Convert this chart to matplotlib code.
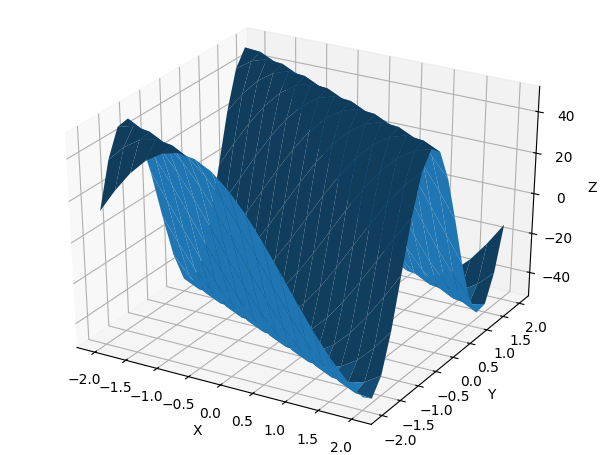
import numpy as np
import matplotlib
matplotlib.use('Agg')
import matplotlib.pyplot as plt
from matplotlib.colors import LightSource, to_rgba

# grid of the surface
x_vals = [-2.0, -1.75, -1.5, -1.25, -1.0, -0.75, -0.5, -0.25, 0.0, 0.25, 0.5, 0.75, 1.0, 1.25, 1.5, 1.75, 2.0]
y_vals = [-2.0, -1.75, -1.5, -1.25, -1.0, -0.75, -0.5, -0.25, 0.0, 0.25, 0.5, 0.75, 1.0, 1.25, 1.5, 1.75, 2.0]

# heights, one row per y value
z_rows = [
    [14.0, 25.4, 35.3, 42.9, 47.9, 50.0, 48.9, 44.8, 37.8, 28.6, 17.5, 5.4, -7.1, -19.1, -29.9, -38.9, -45.5],
    [35.3, 42.9, 47.9, 50.0, 48.9, 44.8, 37.8, 28.6, 17.5, 5.4, -7.1, -19.1, -29.9, -38.9, -45.5, -49.2, -49.9],
    [47.9, 50.0, 48.9, 44.8, 37.8, 28.6, 17.5, 5.4, -7.1, -19.1, -29.9, -38.9, -45.5, -49.2, -49.9, -47.4, -42.1],
    [48.9, 44.8, 37.8, 28.6, 17.5, 5.4, -7.1, -19.1, -29.9, -38.9, -45.5, -49.2, -49.9, -47.4, -42.1, -34.1, -24.0],
    [37.8, 28.6, 17.5, 5.4, -7.1, -19.1, -29.9, -38.9, -45.5, -49.2, -49.9, -47.4, -42.1, -34.1, -24.0, -12.4, 0.0],
    [17.5, 5.4, -7.1, -19.1, -29.9, -38.9, -45.5, -49.2, -49.9, -47.4, -42.1, -34.1, -24.0, -12.4, 0.0, 12.4, 24.0],
    [-7.1, -19.1, -29.9, -38.9, -45.5, -49.2, -49.9, -47.4, -42.1, -34.1, -24.0, -12.4, 0.0, 12.4, 24.0, 34.1, 42.1],
    [-29.9, -38.9, -45.5, -49.2, -49.9, -47.4, -42.1, -34.1, -24.0, -12.4, 0.0, 12.4, 24.0, 34.1, 42.1, 47.4, 49.9],
    [-45.5, -49.2, -49.9, -47.4, -42.1, -34.1, -24.0, -12.4, 0.0, 12.4, 24.0, 34.1, 42.1, 47.4, 49.9, 49.2, 45.5],
    [-49.9, -47.4, -42.1, -34.1, -24.0, -12.4, 0.0, 12.4, 24.0, 34.1, 42.1, 47.4, 49.9, 49.2, 45.5, 38.9, 29.9],
    [-42.1, -34.1, -24.0, -12.4, 0.0, 12.4, 24.0, 34.1, 42.1, 47.4, 49.9, 49.2, 45.5, 38.9, 29.9, 19.1, 7.1],
    [-24.0, -12.4, 0.0, 12.4, 24.0, 34.1, 42.1, 47.4, 49.9, 49.2, 45.5, 38.9, 29.9, 19.1, 7.1, -5.4, -17.5],
    [0.0, 12.4, 24.0, 34.1, 42.1, 47.4, 49.9, 49.2, 45.5, 38.9, 29.9, 19.1, 7.1, -5.4, -17.5, -28.6, -37.8],
    [24.0, 34.1, 42.1, 47.4, 49.9, 49.2, 45.5, 38.9, 29.9, 19.1, 7.1, -5.4, -17.5, -28.6, -37.8, -44.8, -48.9],
    [42.1, 47.4, 49.9, 49.2, 45.5, 38.9, 29.9, 19.1, 7.1, -5.4, -17.5, -28.6, -37.8, -44.8, -48.9, -50.0, -47.9],
    [49.9, 49.2, 45.5, 38.9, 29.9, 19.1, 7.1, -5.4, -17.5, -28.6, -37.8, -44.8, -48.9, -50.0, -47.9, -42.9, -35.3],
    [45.5, 38.9, 29.9, 19.1, 7.1, -5.4, -17.5, -28.6, -37.8, -44.8, -48.9, -50.0, -47.9, -42.9, -35.3, -25.4, -14.0],
]

X, Y = np.meshgrid(x_vals, y_vals)
Z = np.array(z_rows)

fig = plt.figure(figsize=(6.07, 4.56), dpi=100)
ax = fig.add_axes([0.0275, 0.013, 0.93, 0.987], projection='3d')
# let the 3d box stretch with the axes instead of staying square
ax.apply_aspect = lambda position=None: None
ax.set_box_aspect((4, 4, 3.62), zoom=0.978)

surf = ax.plot_surface(X, Y, Z, shade=False)

# facet shading the way the reference does it: normal from three corners
# of each cell, shade scaled between half and full colour
p = np.dstack([X, Y, Z])
v1 = p[:-1, :-1] - p[:-1, 1:]
v2 = p[1:, :-1] - p[:-1, :-1]
normals = np.cross(v1, v2).reshape(-1, 3)
normals = normals / np.linalg.norm(normals, axis=1, keepdims=True)
shade = normals @ LightSource(azdeg=225, altdeg=19.4712).direction
shade = (shade - shade.min()) / (shade.max() - shade.min())
colors = (0.5 + 0.5 * shade)[:, None] * np.array(to_rgba('C0'))
colors[:, 3] = 1
surf.set_facecolor(colors)

ax.set_xlabel('X')
ax.set_ylabel('Y')
ax.set_zlabel('Z')
fig.savefig('out.png', dpi=100)
